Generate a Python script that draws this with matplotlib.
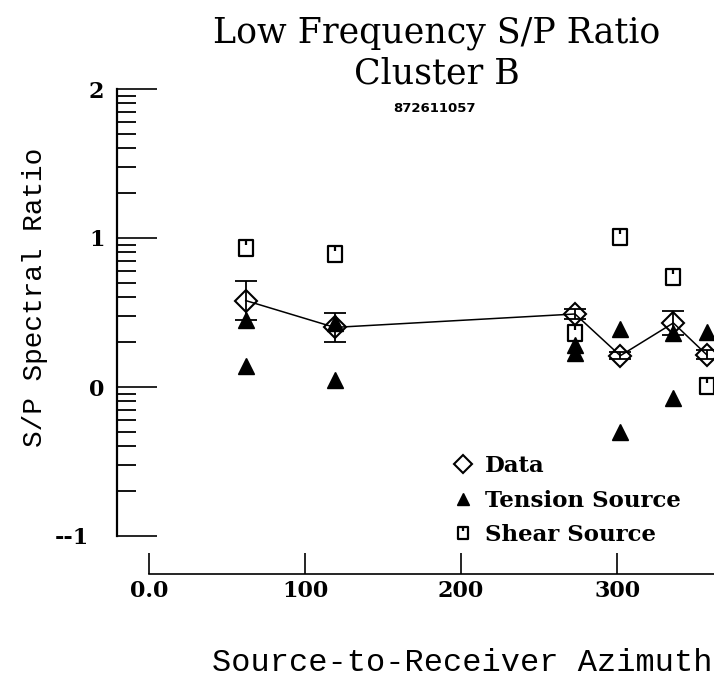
import numpy as np
import matplotlib.pyplot as plt
from matplotlib.path import Path
from matplotlib.transforms import ScaledTranslation

# Азимуты станций (градусы) и измеренные отношения S/P (log10)
azimuth = [62, 119, 273, 302, 336, 357.5]
data = [0.58, 0.40, 0.49, 0.21, 0.43, 0.215]
data_err = [0.13, 0.095, 0.035, 0.025, 0.08, 0.03]

# Модель источника растяжения (по две оценки на станцию)
tension_az = [62, 62, 119, 119, 273, 273, 302, 302, 336, 336, 357.5]
tension = [0.45, 0.14, 0.43, 0.05, 0.28, 0.23, 0.39, -0.30, 0.36, -0.076, 0.37]

# Модель сдвигового источника
shear_az = [62, 119, 273, 302, 336, 357.5]
shear = [0.93, 0.89, 0.36, 1.01, 0.74, 0.01]

yticks = [-1, 0, 1, 2]
ytick_labels = ['--1', '0', '1', '2']
xticks = [0, 100, 200, 300]
xtick_labels = ['0.0', '100', '200', '300']

# Маркер "квадрат с чёрточкой"
shear_marker = Path(
    [(-1, -1.15), (1, -1.15), (1, 1.15), (-1, 1.15), (-1, -1.15), (0, 1.15), (0, 0.4)],
    [Path.MOVETO, Path.LINETO, Path.LINETO, Path.LINETO, Path.CLOSEPOLY,
     Path.MOVETO, Path.LINETO])

W, H = 714, 691
fig = plt.figure(figsize=(W / 100, H / 100), dpi=100)
ax = fig.add_axes([117 / W, 155 / H, 625 / W, 447 / H])

serif = 'DejaVu Serif'

# Линия по данным и погрешности
ax.plot(azimuth, data, color='k', lw=1.1, zorder=2)
ax.errorbar(azimuth, data, yerr=data_err, fmt='none', ecolor='k',
            elinewidth=1.3, capsize=8, capthick=1.3, zorder=2)
h_data, = ax.plot(azimuth, data, 'D', ms=11, mfc='none', mec='k', mew=1.5,
                  ls='none', zorder=3, label='Data')
h_ten, = ax.plot(tension_az, tension, '^', ms=11, color='k', ls='none',
                 zorder=4, label='Tension Source')
h_sh, = ax.plot(shear_az, shear, marker=shear_marker, ms=11, mfc='none',
                mec='k', mew=1.6, ls='none', zorder=4, label='Shear Source')

ax.set_xlim(-20.5, 380)
ax.set_ylim(-1, 2)

# Оси: только левая и нижняя, нижняя смещена вниз
for s in ['top', 'right']:
    ax.spines[s].set_visible(False)
ax.spines['left'].set_linewidth(1.6)
ax.spines['bottom'].set_linewidth(1.2)
ax.spines['bottom'].set_position(('outward', 27))
ax.spines['bottom'].set_bounds(0, 380)

ax.set_yticks(yticks)
ax.set_yticklabels(ytick_labels, family=serif, fontsize=16, fontweight='bold')
minor = [n + np.log10(k) for n in (-1, 0, 1) for k in range(2, 10)]
ax.set_yticks(minor, minor=True)
ax.tick_params(axis='y', which='major', direction='in', length=29, width=1.2, pad=9)
ax.tick_params(axis='y', which='minor', direction='in', length=14, width=1.3)

# подпись "--1" стоит левее остальных
lab = ax.get_yticklabels()[0]
lab.set_transform(lab.get_transform() + ScaledTranslation(-0.16, 0, fig.dpi_scale_trans))

ax.set_xticks(xticks)
ax.set_xticklabels(xtick_labels, family=serif, fontsize=16, fontweight='bold')
ax.tick_params(axis='x', direction='in', length=15, width=1.2, pad=5)

# Подписи
fig.text(437 / W, 1 - 33 / H, 'Low Frequency S/P Ratio', family=serif,
         fontsize=25, ha='center', va='center')
fig.text(437 / W, 1 - 74 / H, 'Cluster B', family=serif,
         fontsize=25, ha='center', va='center')
fig.text(435 / W, 1 - 108 / H, '872611057', family='DejaVu Sans',
         fontsize=9.5, fontweight='bold', ha='center', va='center')
fig.text(35 / W, 1 - 297 / H, 'S/P Spectral Ratio', family='Liberation Mono',
         fontsize=20, rotation=90, ha='center', va='center')
fig.text(462 / W, 1 - 663 / H, 'Source-to-Receiver Azimuth', family='Liberation Mono',
         fontsize=23, ha='center', va='center')

ax.legend(handles=[h_data, h_ten, h_sh], loc='upper left',
          bbox_to_anchor=(452 / W, 1 - 455 / H), bbox_transform=fig.transFigure,
          frameon=False, borderpad=0, borderaxespad=0, handlelength=1,
          handletextpad=0.45, labelspacing=0.55, markerscale=0.8,
          prop={'family': serif, 'size': 16.5, 'weight': 'bold'})

fig.savefig('out.png', dpi=100)
